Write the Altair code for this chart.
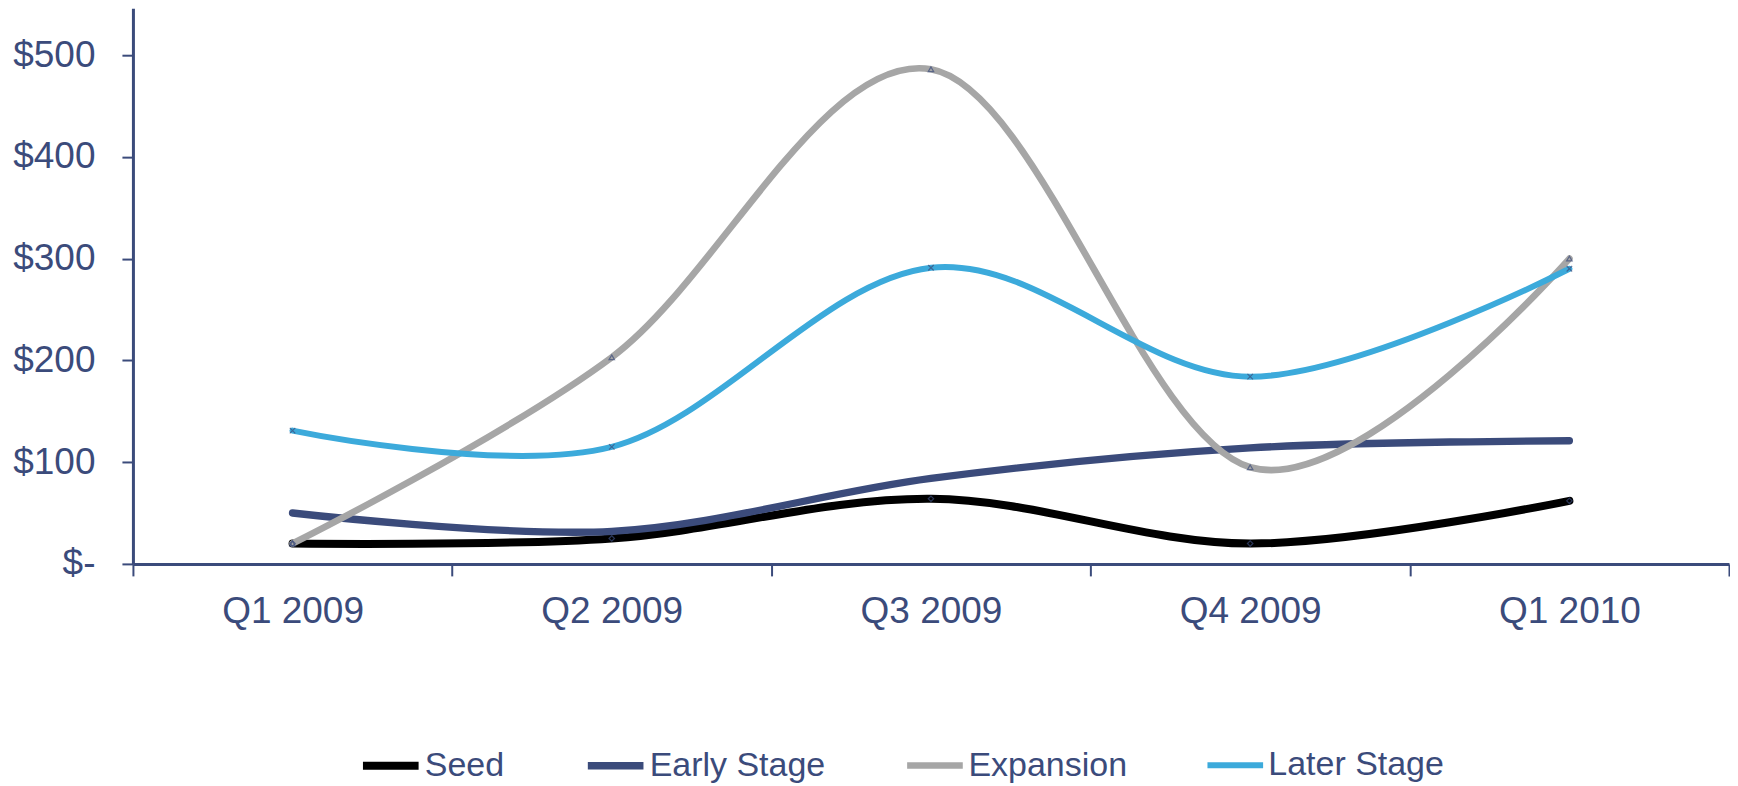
import altair as alt
import pandas as pd

quarters = ["Q1 2009", "Q2 2009", "Q3 2009", "Q4 2009", "Q1 2010"]
series_names = ["Seed", "Early Stage", "Expansion", "Later Stage"]
seed = [20, 25, 64, 20, 62]
early = [50, 32, 84, 114, 121]
expansion = [20, 203, 486, 95, 300]
later = [131, 115, 291, 184, 290]

colors = ["#000000", "#3B4B7B", "#A6A6A6", "#3CAADB"]
navy = "#3B4B7B"
FONT = "Liberation Sans"

rows = []
for name, vals in zip(series_names, [seed, early, expansion, later]):
    for i, (q, v) in enumerate(zip(quarters, vals)):
        rows.append({"quarter": q, "value": v, "series": name})
df = pd.DataFrame(rows)

x_enc = alt.X(
    "quarter:N",
    sort=quarters,
    bandPosition=0.5,
    scale=alt.Scale(type="band", paddingInner=0, paddingOuter=0),
    axis=alt.Axis(
        title=None,
        labelAngle=0,
        tickBand="extent",
        tickSize=12,
        tickWidth=2,
        tickColor=navy,
        domainColor=navy,
        domainWidth=3,
        labelPadding=18,
        labelFontSize=37,
        labelFont=FONT,
        labelColor=navy,
        grid=False,
    ),
)
y_enc = alt.Y(
    "value:Q",
    scale=alt.Scale(domain=[0, 546], nice=False, zero=True),
    axis=alt.Axis(
        title=None,
        values=[0, 100, 200, 300, 400, 500],
        labelExpr="datum.value == 0 ? '$-' : '$' + datum.value",
        tickSize=11,
        tickWidth=2,
        tickColor=navy,
        domainColor=navy,
        domainWidth=3,
        labelPadding=27,
        labelFontSize=37,
        labelFont=FONT,
        labelColor=navy,
        minExtent=125,
        maxExtent=125,
        grid=False,
    ),
)

lines = alt.Chart(df).mark_line(interpolate="cardinal", strokeCap="round").encode(
    x=x_enc,
    y=y_enc,
    color=alt.Color(
        "series:N",
        sort=series_names,
        scale=alt.Scale(domain=series_names, range=colors),
        legend=alt.Legend(
            title=None,
            orient="none",
            direction="horizontal",
            legendX=226,
            legendY=726,
            symbolType="stroke",
            symbolSize=3100,
            symbolStrokeWidth=8,
            labelFontSize=34,
            labelFont=FONT,
            labelColor=navy,
            labelLimit=500,
            labelOffset=2,
            columnPadding=68,
            padding=0,
        ),
    ),
    strokeWidth=alt.StrokeWidth(
        "series:N",
        scale=alt.Scale(domain=series_names, range=[8, 6, 5, 5]),
        legend=None,
    ),
    detail="series:N",
)

points = alt.Chart(df).transform_filter(
    "datum.series != 'Early Stage'"
).mark_point(filled=False, size=30, strokeWidth=1.2, color=navy).encode(
    x=alt.X("quarter:N", sort=quarters, bandPosition=0.5),
    y="value:Q",
    shape=alt.Shape(
        "series:N",
        scale=alt.Scale(
            domain=["Seed", "Expansion", "Later Stage"],
            range=["diamond", "triangle-up", "M-1,-1L1,1M-1,1L1,-1"],
        ),
        legend=None,
    ),
)

chart = (
    alt.layer(lines, points)
    .properties(width=1597, height=556, padding=0)
    .configure_view(stroke=None)
)

chart.save("out.html", embed_options={"renderer": "svg", "actions": False})
